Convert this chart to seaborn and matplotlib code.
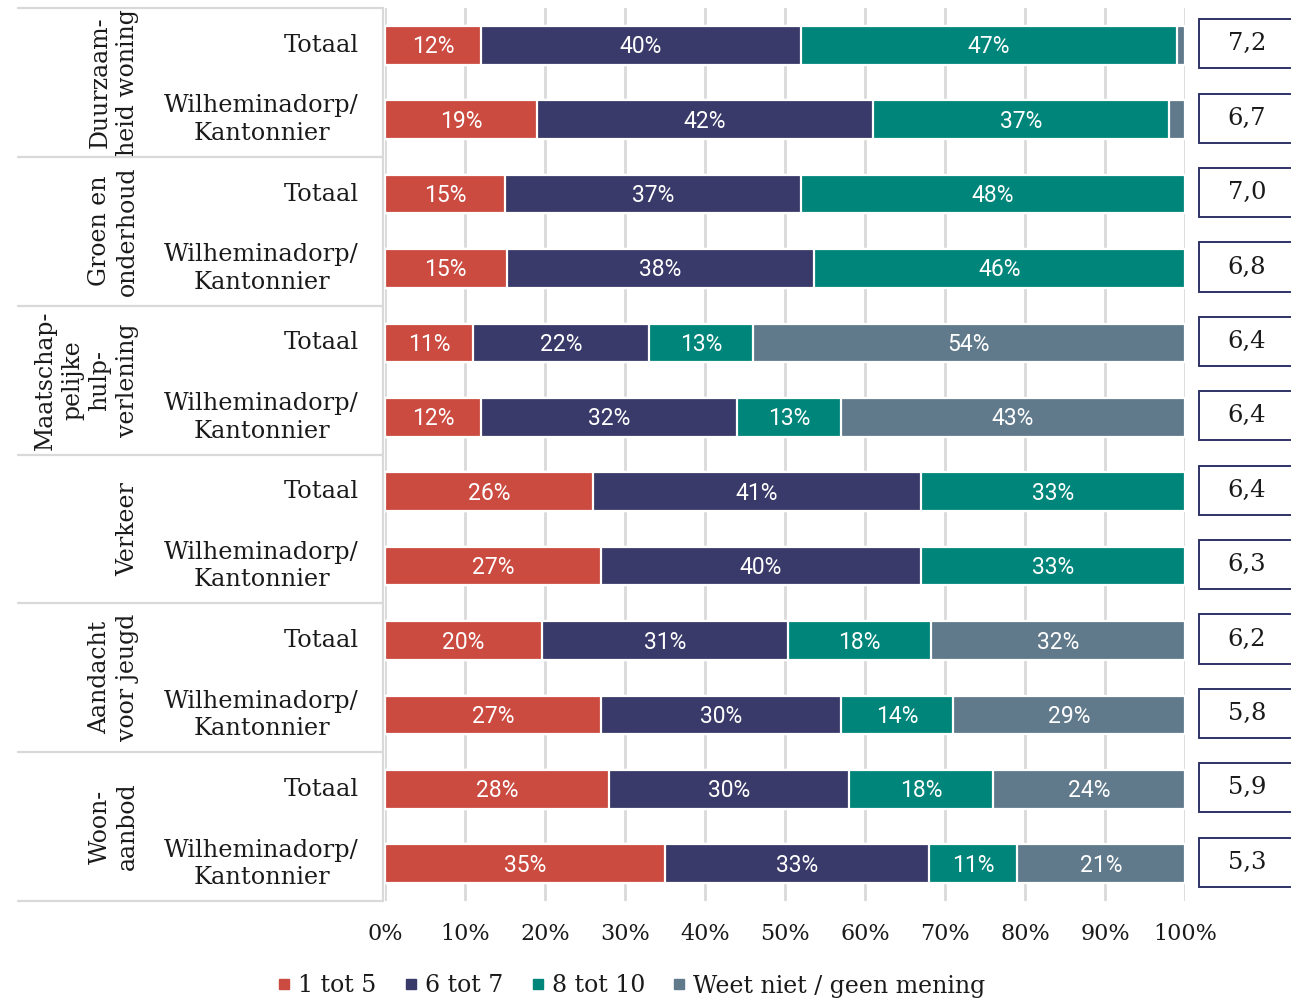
import numpy as np
import pandas as pd
import matplotlib
matplotlib.use("Agg")
import matplotlib.pyplot as plt
import matplotlib.transforms as mtransforms
from matplotlib.patches import Rectangle
from matplotlib.lines import Line2D
import seaborn as sns

# ---------------- data ----------------
groups = ["Duurzaam-\nheid woning", "Groen en\nonderhoud",
          "Maatschap-\npelijke\nhulp-\nverlening", "Verkeer",
          "Aandacht\nvoor jeugd", "Woon-\naanbod"]
rows = ["Totaal", "Wilheminadorp/\nKantonnier"] * 6
series = ["1 tot 5", "6 tot 7", "8 tot 10", "Weet niet / geen mening"]
v_1tot5 = [12, 19, 15, 15.2, 11, 12, 26, 27, 19.6, 27, 28, 35]
v_6tot7 = [40, 42, 37, 38.4, 22, 32, 41, 40, 30.8, 30, 30, 33]
v_8tot10 = [47, 37, 48, 46.4, 13, 13, 33, 33, 17.9, 14, 18, 11]
v_weet = [1, 2, 0, 0, 54, 43, 0, 0, 31.7, 29, 24, 21]
scores = ["7,2", "6,7", "7,0", "6,8", "6,4", "6,4", "6,4", "6,3", "6,2", "5,8", "5,9", "5,3"]
xticks = [0, 10, 20, 30, 40, 50, 60, 70, 80, 90, 100]

colors = ["#cb4b41", "#393a69", "#00857a", "#607a8c"]

# ---------------- styling ----------------
sns.set_style("white")
plt.rcParams["font.family"] = ["DejaVu Serif"]
TXT = "#1a1a1a"

ids = [f"r{i}" for i in range(len(rows))]
vals = np.array([v_1tot5, v_6tot7, v_8tot10, v_weet], dtype=float)
cum = np.cumsum(vals, axis=0)
df = pd.DataFrame({"row": ids})
for k in range(4):
    df[f"c{k}"] = cum[k]

fig = plt.figure(figsize=(12.91, 10), dpi=100)
W, H = 1291, 1000
ax = fig.add_axes([385 / W, 99 / H, 800 / W, 893 / H])

# stacked bars: draw cumulative totals from back to front
for k in [3, 2, 1, 0]:
    sns.barplot(data=df, x=f"c{k}", y="row", order=ids, orient="h",
                color=colors[k], saturation=1, width=0.52, errorbar=None,
                edgecolor="white", linewidth=1.6, ax=ax, zorder=2)

ax.set_xlim(0, 100)
ax.set_ylim(11.5, -0.5)
ax.set_xlabel("")
ax.set_ylabel("")
ax.set_yticks([])
ax.set_xticks(xticks)
ax.set_xticklabels([f"{t}%" for t in xticks], fontsize=16, color=TXT)
ax.tick_params(axis="x", length=0, pad=16)
ax.grid(axis="x", color="#d9d9d9", linewidth=2)
ax.grid(axis="y", visible=False)
ax.set_axisbelow(True)
for s in ax.spines.values():
    s.set_visible(False)

# segment labels
for i in range(len(ids)):
    left = 0.0
    for k in range(4):
        v = vals[k, i]
        if v >= 3:
            ax.text(left + v / 2, i + 0.02, f"{v:.0f}%", ha="center", va="center",
                    color="white", fontsize=16.5, family="Roboto", zorder=5)
        left += v

# left table: row labels, group labels, separator lines
tr = mtransforms.blended_transform_factory(ax.transAxes, ax.transData)
for i, r in enumerate(rows):
    ax.text((359 - 385) / 800, i, r, transform=tr, ha="right", va="center",
            multialignment="center", fontsize=17.3, color=TXT, linespacing=1.25,
            clip_on=False)
for g, name in enumerate(groups):
    ax.text((139 - 385) / 800, 2 * g + 0.5, name, transform=tr, rotation=90,
            ha="right", va="center", multialignment="center", fontsize=17,
            color=TXT, linespacing=1.25, clip_on=False)
for g in range(len(groups) + 1):
    y = 2 * g - 0.5
    ax.add_line(Line2D([(18 - 385) / 800, -0.003], [y, y], transform=tr,
                       color="#d9d9d9", linewidth=1.6, clip_on=False))
ax.add_line(Line2D([-0.003, -0.003], [-0.5, 11.5], transform=tr,
                   color="#d9d9d9", linewidth=1.6, clip_on=False))

# score boxes on the right
trf = mtransforms.blended_transform_factory(fig.transFigure, ax.transData)
for i, sc in enumerate(scores):
    ax.add_patch(Rectangle((1199 / W, i - 0.35), 0.1, 0.66, transform=trf,
                           facecolor="white", edgecolor="#2f3266",
                           linewidth=1.4, clip_on=False))
    ax.text(1247 / W, i - 0.02, sc, transform=trf, ha="center", va="center",
            fontsize=17.5, color=TXT, clip_on=False)

# legend
handles = [Line2D([], [], marker="s", linestyle="", markersize=7,
                  color=c) for c in colors]
fig.legend(handles, series, loc="center", bbox_to_anchor=(632 / W, 1 - 986 / H),
           ncol=4, frameon=False, handlelength=0.5, handletextpad=0.35,
           columnspacing=1.2, fontsize=17, labelcolor=TXT)

fig.savefig("out.png", dpi=100, facecolor="white")
